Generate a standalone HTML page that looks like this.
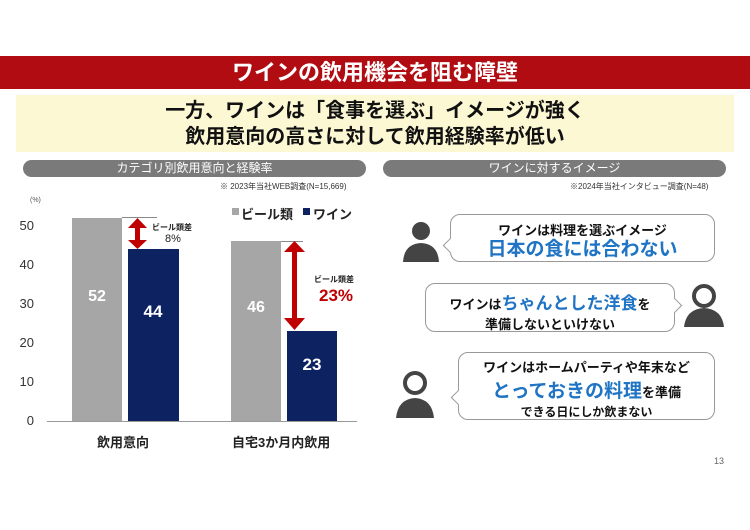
<!DOCTYPE html>
<html><head><meta charset="utf-8"><style>
body{margin:0;width:750px;height:530px;background:#fff;position:relative;overflow:hidden;font-family:"Liberation Sans","Noto Sans CJK JP",sans-serif;}
.a{position:absolute;}
.red{left:0;top:56px;width:750px;height:33px;background:#b00c12;color:#fff;font-weight:bold;font-size:22px;text-align:center;line-height:33px;}
.yel{left:16px;top:95px;width:718px;height:57px;background:#fcf8d4;text-align:center;font-weight:bold;font-size:20px;line-height:26px;padding-top:3px;box-sizing:border-box;color:#111;}
.pill{top:160px;height:17px;background:#7a7a7a;border-radius:9px;color:#fff;font-size:12px;text-align:center;line-height:17px;}
.note{font-size:8px;color:#333;top:181px;}
.tick{font-size:13px;color:#333;width:30px;text-align:right;left:4px;}
.bar{position:absolute;}
.v{color:#fff;font-weight:bold;font-size:16px;text-align:center;position:absolute;width:50px;}
.bub{border:1.5px solid #999;border-radius:10px;background:#fff;text-align:center;font-weight:bold;color:#111;box-sizing:border-box;}
.tail{position:absolute;width:10px;height:10px;background:#fff;border-left:1.5px solid #999;border-bottom:1.5px solid #999;transform:rotate(45deg);}
.tailr{position:absolute;width:10px;height:10px;background:#fff;border-right:1.5px solid #999;border-top:1.5px solid #999;transform:rotate(45deg);}
.blue{color:#1f74c4;}
</style></head><body>
<div class="a red">ワインの飲用機会を阻む障壁</div>
<div class="a yel">一方、ワインは「食事を選ぶ」イメージが強く<br>飲用意向の高さに対して飲用経験率が低い</div>
<div class="a pill" style="left:23px;width:343px;">カテゴリ別飲用意向と経験率</div>
<div class="a pill" style="left:383px;width:343px;">ワインに対するイメージ</div>
<div class="a note" style="left:220px;">※ 2023年当社WEB調査(N=15,669)</div>
<div class="a note" style="left:570px;">※2024年当社インタビュー調査(N=48)</div>

<div class="a" style="left:30px;top:197px;font-size:7px;color:#555;">(%)</div>
<div class="a tick" style="top:218px;">50</div>
<div class="a tick" style="top:257px;">40</div>
<div class="a tick" style="top:296px;">30</div>
<div class="a tick" style="top:335px;">20</div>
<div class="a tick" style="top:374px;">10</div>
<div class="a tick" style="top:413px;">0</div>
<div class="a" style="left:47px;top:421px;width:310px;height:1px;background:#999;"></div>

<div class="bar" style="left:72px;top:218px;width:50px;height:203px;background:#a6a6a6;"></div>
<div class="bar" style="left:122px;top:217px;width:35px;height:1px;background:#888;"></div>
<div class="bar" style="left:128px;top:249px;width:51px;height:172px;background:#0d2260;"></div>
<div class="bar" style="left:231px;top:241px;width:50px;height:180px;background:#a6a6a6;"></div>
<div class="bar" style="left:281px;top:241px;width:22px;height:1px;background:#888;"></div>
<div class="bar" style="left:287px;top:331px;width:50px;height:90px;background:#0d2260;"></div>
<div class="v" style="left:72px;top:288px;">52</div>
<div class="v" style="left:128px;top:302px;font-size:17px;">44</div>
<div class="v" style="left:231px;top:299px;">46</div>
<div class="v" style="left:287px;top:355px;font-size:17px;">23</div>

<svg class="a" style="left:0;top:0;" width="750" height="530">
<g fill="#c00000">
<rect x="135" y="226" width="5" height="16"/><polygon points="128,228 147,228 137.5,218"/><polygon points="128,240 147,240 137.5,249"/>
<rect x="292" y="250" width="5" height="72"/><polygon points="284,252 305,252 294.5,241"/><polygon points="284,318 305,318 294.5,330"/>
</g>
<rect x="232" y="208" width="7" height="7" fill="#a6a6a6"/>
<rect x="303" y="208" width="7" height="7" fill="#0d2260"/>
<g fill="#444">
<circle cx="421" cy="231" r="9"/><path d="M403 262 Q404 244 421 243 Q438 244 439 262Z"/>
<circle cx="704" cy="296" r="10" fill="none" stroke="#444" stroke-width="4"/><path d="M684 327 Q686 309 704 308 Q722 309 724 327Z"/>
<circle cx="415" cy="383" r="10" fill="none" stroke="#444" stroke-width="4"/><path d="M396 418 Q398 399 415 398 Q432 399 434 418Z"/>
</g>
</svg>
<div class="a" style="left:241px;top:204px;font-size:13px;font-weight:bold;color:#222;">ビール類</div>
<div class="a" style="left:313px;top:204px;font-size:13px;font-weight:bold;color:#222;">ワイン</div>
<div class="a" style="left:152px;top:222px;font-size:8px;font-weight:bold;color:#222;">ビール類差</div>
<div class="a" style="left:165px;top:233px;font-size:11px;color:#222;">8%</div>
<div class="a" style="left:314px;top:274px;font-size:8px;font-weight:bold;color:#222;">ビール類差</div>
<div class="a" style="left:319px;top:286px;font-size:17px;font-weight:bold;color:#c00000;">23%</div>
<div class="a" style="left:97px;top:432px;font-size:13px;font-weight:bold;color:#222;">飲用意向</div>
<div class="a" style="left:232px;top:432px;font-size:13px;font-weight:bold;color:#222;">自宅3か月内飲用</div>

<div class="a bub" style="left:450px;top:214px;width:265px;height:48px;padding-top:5px;"><div style="font-size:13px;">ワインは料理を選ぶイメージ</div><div class="blue" style="font-size:19px;line-height:22px;">日本の食には合わない</div></div>
<div class="tail" style="left:445px;top:240px;"></div>
<div class="a bub" style="left:425px;top:283px;width:250px;height:49px;padding-top:5px;"><div style="font-size:13px;">ワインは<span class="blue" style="font-size:17px;">ちゃんとした洋食</span>を</div><div style="font-size:13px;">準備しないといけない</div></div>
<div class="tailr" style="left:669px;top:300px;"></div>
<div class="a bub" style="left:458px;top:352px;width:257px;height:68px;padding-top:4px;"><div style="font-size:13px;">ワインはホームパーティや年末など</div><div style="font-size:13px;"><span class="blue" style="font-size:19px;">とっておきの料理</span>を準備</div><div style="font-size:12px;">できる日にしか飲まない</div></div>
<div class="tail" style="left:453px;top:392px;"></div>
<div class="a" style="left:714px;top:456px;font-size:9px;color:#666;">13</div>
</body></html>
